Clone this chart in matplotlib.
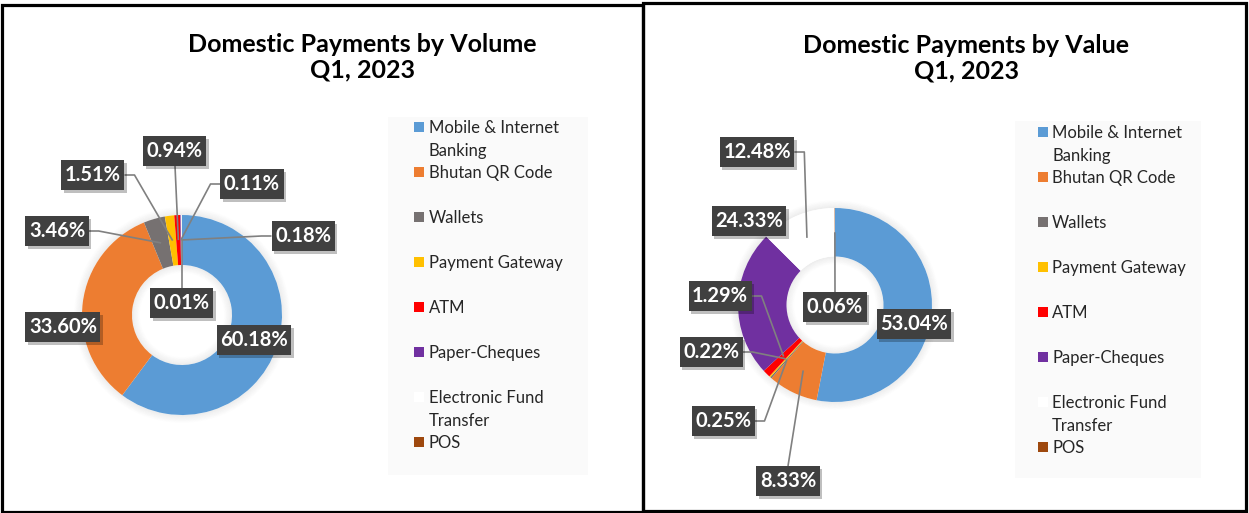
import numpy as np
import matplotlib.pyplot as plt
import matplotlib.patheffects as pe
from matplotlib.patches import Wedge, Rectangle

plt.rcParams['font.family'] = ['Lato', 'DejaVu Sans']

categories = ['Mobile & Internet\nBanking', 'Bhutan QR Code', 'Wallets', 'Payment Gateway',
              'ATM', 'Paper-Cheques', 'Electronic Fund\nTransfer', 'POS']
colors = ['#5B9BD5', '#ED7D31', '#767171', '#FFC000', '#FF0000', '#7030A0', '#FFFFFF', '#9E480E']

volume = [60.18, 33.60, 3.46, 1.51, 0.94, 0.11, 0.18, 0.01]
value = [53.04, 8.33, 0.25, 0.22, 1.29, 24.33, 12.48, 0.06]

W, H = 1249, 513

# label box centres in pixels (from top-left) + side where the leader leaves the box
vol_labels = [(254, 340, None), (63, 327, None), (57, 231, 'r'), (93, 175, 'r'),
              (175, 151, 'b'), (252, 184, 'l'), (303, 236, 'l'), (182, 303, 't')]
val_labels = [(914, 324, None), (788, 481, 't'), (723, 421, 'r'), (711, 352, 'r'),
              (720, 296, 'r'), (749, 221, None), (757, 152, 'r'), (835, 307, 't')]


def donut(fig, vals, panel, center, R, label_pos, legend_rect, legend_x, legend_y):
    x0, x1 = panel
    cx, cy = center
    ax = fig.add_axes([x0 / W, 0, (x1 - x0) / W, 1])

    def d(px, py):
        return (px - cx) / R, (cy - py) / R

    # soft shadow around the ring and in the hole
    n = 8
    for k in range(n):
        a = 0.07 * (1 - k / n)
        ax.add_patch(Wedge((0, 0), 1.0 + 0.01 * (k + 1), 0, 360, width=0.01,
                           fc='black', ec='none', alpha=a, zorder=0))
        ax.add_patch(Wedge((0, 0), 0.5 - 0.01 * k, 0, 360, width=0.01,
                           fc='black', ec='none', alpha=a, zorder=0))

    wedges, _ = ax.pie(vals, colors=colors, startangle=90, counterclock=False, radius=1,
                       wedgeprops=dict(width=0.5, edgecolor='none', linewidth=0))
    ax.set_xlim((x0 - cx) / R, (x1 - cx) / R)
    ax.set_ylim((cy - H) / R, cy / R)
    ax.set_aspect('auto')
    ax.axis('off')

    texts = []
    for v, (px, py, side) in zip(vals, label_pos):
        t = ax.text(*d(px, py), f'{v:.2f}%', ha='center', va='center', color='white',
                    fontsize=14.5, fontweight='bold', zorder=7)
        texts.append((t, side, d(px, py)))

    # legend
    lx0, ly0, lx1, ly1 = legend_rect
    ax.add_patch(Rectangle(d(lx0, ly1), (lx1 - lx0) / R, (ly1 - ly0) / R,
                           fc='#FAFAFA', ec='none', zorder=0))
    mx, tx = legend_x
    for i, (lab, c) in enumerate(zip(categories, colors)):
        yc = legend_y + i * 45
        ax.add_patch(Rectangle(d(mx, yc + 5), 10 / R, 10 / R, fc=c, ec='none', zorder=2))
        for j, line in enumerate(lab.split('\n')):
            ax.text(*d(tx, yc + 6 + j * 22.7), line, fontsize=12, va='baseline',
                    ha='left', color='#262626')
    return ax, wedges, texts


def boxes_and_leaders(fig, ax, wedges, texts, R):
    r = fig.canvas.get_renderer()
    el = 10 / R
    for w, (t, side, (cx, cy)) in zip(wedges, texts):
        bb = t.get_window_extent(r)
        bw = (bb.width + 7) / R
        bh = 30 / R
        bx0, bx1 = cx - bw / 2, cx + bw / 2
        by0, by1 = cy - bh / 2, cy + bh / 2
        box = Rectangle((bx0, by0), bw, bh, fc='#404040', ec='none', zorder=6)
        box.set_path_effects([pe.SimplePatchShadow(offset=(2, -2), shadow_rgbFace='black',
                                                   alpha=0.25), pe.Normal()])
        ax.add_patch(box)
        if side is None:
            continue
        a = np.deg2rad((w.theta1 + w.theta2) / 2)
        px, py = 0.75 * np.cos(a), 0.75 * np.sin(a)
        if side == 'r':
            xs, ys = [bx1, bx1 + el, px], [cy, cy, py]
        elif side == 'l':
            xs, ys = [bx0, bx0 - el, px], [cy, cy, py]
        elif side == 't':
            xs, ys = [cx, px], [by1, py]
        else:
            xs, ys = [cx, px], [by0, py]
        ax.plot(xs, ys, color='#808080', lw=1.2, zorder=5, solid_capstyle='butt')


fig = plt.figure(figsize=(W / 100, H / 100), dpi=100)

ax1, w1, t1 = donut(fig, volume, (0, 642), (182, 315), 100, vol_labels,
                    (388, 117, 588, 475), (414, 429), 127)
ax2, w2, t2 = donut(fig, value, (642, W), (835, 305), 97, val_labels,
                    (1015, 121, 1201, 478), (1038, 1052), 132)

fig.text(362 / W, 1 - 57 / H, 'Domestic Payments by Volume\nQ1, 2023', ha='center', va='center',
         fontsize=18, fontweight='bold', linespacing=1.12, color='black')
fig.text(966 / W, 1 - 58 / H, 'Domestic Payments by Value\nQ1, 2023', ha='center', va='center',
         fontsize=18, fontweight='bold', linespacing=1.12, color='black')

# panel borders
fig.add_artist(Rectangle((2 / W, (H - 512) / H), 640.5 / W, 507.5 / H, transform=fig.transFigure,
                         fill=False, ec='black', lw=2.3))
fig.add_artist(Rectangle((642.5 / W, (H - 511) / H), 603 / W, 508 / H, transform=fig.transFigure,
                         fill=False, ec='black', lw=2.3))

fig.canvas.draw()
boxes_and_leaders(fig, ax1, w1, t1, 100)
boxes_and_leaders(fig, ax2, w2, t2, 97)

fig.savefig('out.png', dpi=100)
